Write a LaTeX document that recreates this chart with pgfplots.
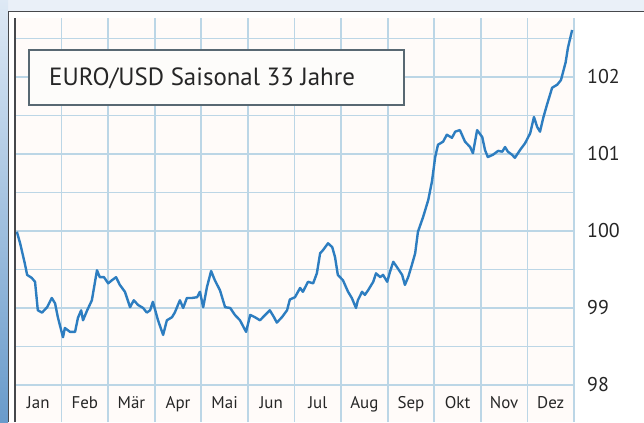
\documentclass[border=0pt]{standalone}
\usepackage{fontspec}
\setmainfont{PT Sans}
\usepackage{pgfplots}
\pgfplotsset{compat=1.18}
\definecolor{linecol}{RGB}{45,125,192}
\definecolor{gridblue}{RGB}{188,214,230}
\definecolor{plotbg}{RGB}{255,251,249}
\definecolor{topstrip}{RGB}{234,240,248}
\definecolor{leftlight}{RGB}{222,233,245}
\definecolor{leftdark}{RGB}{105,155,203}
\definecolor{frame}{RGB}{70,72,76}
\definecolor{boxframe}{RGB}{88,104,114}
\definecolor{boxfill}{RGB}{253,252,250}
\begin{document}
\begin{tikzpicture}[x=1bp,y=1bp]
\useasboundingbox (0,0) rectangle (644,422);
\fill[topstrip] (0,0) rectangle (644,422);
\shade[top color=leftlight, bottom color=leftdark] (0,0) rectangle (8,422);
\fill[white] (8,0) rectangle (644,411);
\draw[frame, line width=1.2bp] (8.6,0) -- (8.6,410.6) -- (644,410.6);
\begin{axis}[
  at={(15bp,0bp)}, anchor=south west,
  scale only axis, width=559bp, height=404bp,
  xmin=0, xmax=12, ymin=97.519, ymax=102.766,
  axis line style={draw=none},
  tick style={draw=none},
  axis background/.style={fill=plotbg},
  xtick={0.5,1.5,...,11.5},
  xticklabels={Jan,Feb,Mär,Apr,Mai,Jun,Jul,Aug,Sep,Okt,Nov,Dez},
  minor xtick={0,1,...,12},
  ytick={98,99,100,101,102},
  minor ytick={97.5,98,...,102.5},
  xminorgrids, yminorgrids, xmajorgrids=false, ymajorgrids=false,
  minor grid style={gridblue, line width=1.7bp},
  yticklabel pos=right,
  /pgf/number format/assume math mode=true,
  yticklabel style={font=\fontsize{20}{22}\selectfont, text=black!85, inner sep=0pt, anchor=west, xshift=13bp},
  xticklabel style={font=\fontsize{17}{19}\selectfont, text=black!85, inner sep=0pt, anchor=base, yshift=14bp},
  clip=false,
]
\addplot[linecol, line width=2.4bp, line join=round] table {
x y
0.04 99.99
0.11 99.84
0.21 99.58
0.26 99.43
0.36 99.39
0.43 99.34
0.49 98.97
0.58 98.94
0.69 99.01
0.79 99.13
0.86 99.06
0.92 98.88
1.03 98.62
1.07 98.74
1.18 98.69
1.29 98.69
1.35 98.87
1.42 98.97
1.46 98.84
1.55 98.97
1.65 99.10
1.76 99.49
1.82 99.40
1.91 99.40
2.00 99.32
2.08 99.36
2.17 99.40
2.25 99.30
2.36 99.21
2.47 99.01
2.55 99.10
2.64 99.04
2.75 99.00
2.83 98.94
2.90 98.97
2.96 99.08
3.07 98.84
3.18 98.65
3.26 98.84
3.37 98.88
3.43 98.94
3.54 99.10
3.61 99.00
3.69 99.13
3.80 99.13
3.91 99.14
3.97 99.21
4.04 99.01
4.12 99.27
4.21 99.48
4.29 99.36
4.40 99.23
4.51 99.01
4.62 99.00
4.72 98.91
4.83 98.84
4.96 98.69
5.05 98.91
5.15 98.88
5.26 98.84
5.37 98.91
5.47 98.97
5.56 98.88
5.62 98.81
5.73 98.88
5.84 98.97
5.90 99.11
6.01 99.14
6.12 99.26
6.18 99.21
6.29 99.34
6.40 99.32
6.48 99.45
6.55 99.71
6.61 99.75
6.72 99.84
6.81 99.79
6.87 99.66
6.93 99.43
7.04 99.36
7.15 99.21
7.23 99.13
7.32 99.00
7.36 99.10
7.45 99.21
7.51 99.17
7.58 99.23
7.69 99.34
7.75 99.45
7.84 99.40
7.90 99.43
7.99 99.34
8.05 99.47
8.12 99.60
8.20 99.53
8.31 99.43
8.37 99.30
8.44 99.40
8.52 99.56
8.59 99.71
8.65 99.99
8.76 100.18
8.87 100.40
8.95 100.64
9.02 100.96
9.08 101.12
9.19 101.16
9.27 101.25
9.38 101.21
9.45 101.29
9.55 101.31
9.66 101.16
9.77 101.09
9.83 101.01
9.92 101.31
10.03 101.22
10.09 101.05
10.15 100.96
10.26 100.99
10.37 101.04
10.46 101.03
10.52 101.09
10.58 101.03
10.67 100.99
10.73 100.95
10.84 101.05
10.95 101.14
11.06 101.27
11.14 101.48
11.21 101.35
11.27 101.29
11.34 101.47
11.42 101.64
11.53 101.86
11.64 101.90
11.72 101.96
11.82 102.19
11.87 102.38
11.96 102.61
};
\end{axis}
\draw[frame, line width=1.6bp] (15,0) -- (15,404);
\draw[boxframe, line width=2.8bp, fill=boxfill] (29,317) rectangle (404,372);
\node[anchor=west, inner sep=0pt, font=\fontsize{25}{28}\selectfont, text=black!85] at (49,344) {EURO/USD Saisonal 33 Jahre};
\end{tikzpicture}
\end{document}
